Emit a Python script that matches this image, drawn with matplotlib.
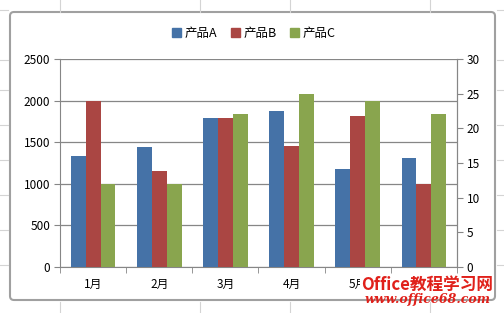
import numpy as np
import matplotlib.pyplot as plt
from matplotlib.patches import FancyBboxPatch, Rectangle

plt.rcParams['font.family'] = ['Noto Sans CJK SC', 'DejaVu Sans']

# 数据
months = ['1月', '2月', '3月', '4月', '5月', '6月']
prod_a = [1335, 1445, 1795, 1880, 1180, 1310]
prod_b = [2000, 1155, 1795, 1455, 1815, 1000]
prod_c = [12, 12, 22, 25, 24, 22]   # 次坐标轴
left_ticks = [0, 500, 1000, 1500, 2000, 2500]
right_ticks = [0, 5, 10, 15, 20, 25, 30]

colors = ['#4572A7', '#AA4643', '#89A54E']

fig = plt.figure(figsize=(5.04, 3.13), dpi=100)
W, H = 504, 313

# 表格背景线
bg = fig.add_axes([0, 0, 1, 1])
bg.set_xlim(0, W)
bg.set_ylim(H, 0)
bg.axis('off')
for x in [60, 200, 290, 430]:
    bg.plot([x, x], [0, 12], color='#d4d4d4', lw=0.8)
    bg.plot([x, x], [302, H], color='#d4d4d4', lw=0.8)
for y in [10, 60, 90, 125, 160, 195, 230, 265]:
    bg.plot([0, 8], [y, y], color='#d4d4d4', lw=0.8)
    bg.plot([497, W], [y, y], color='#d4d4d4', lw=0.8)
frame = FancyBboxPatch((10, 12), 485, 288, boxstyle='round,pad=0,rounding_size=4',
                       fc='white', ec='#a0a0a0', lw=1.5)
bg.add_patch(frame)

# 图表区
ax = fig.add_axes([60 / W, 1 - 267 / H, (457 - 60) / W, (267 - 59) / H])
x = np.arange(len(months))
w = 0.225
ax.bar(x - w, prod_a, w, color=colors[0], label='产品A', zorder=3)
ax.bar(x, prod_b, w, color=colors[1], label='产品B', zorder=3)
ax.set_xlim(-0.5, len(months) - 0.5)
ax.set_ylim(0, 2500)
ax.set_yticks(left_ticks)
ax.grid(axis='y', color='#868686', lw=0.9, zorder=0)
ax.set_axisbelow(True)
ax.set_xticks(x)
ax.set_xticklabels(months)
ax.set_xticks(np.arange(-0.5, len(months)), minor=True)
ax.tick_params(axis='x', which='major', length=0, pad=8, labelsize=8.5)
ax.tick_params(axis='x', which='minor', length=4, color='#868686', direction='out')
ax.tick_params(axis='y', length=4, color='#868686', labelsize=8.5, pad=3)
ax.spines['top'].set_visible(False)
for s in ['left', 'bottom', 'right']:
    ax.spines[s].set_color('#868686')

ax2 = ax.twinx()
ax2.bar(x + w, prod_c, w, color=colors[2], label='产品C', zorder=3)
ax2.set_ylim(0, 30)
ax2.set_yticks(right_ticks)
ax2.tick_params(axis='y', length=4, color='#868686', labelsize=8.5, pad=3)
for s in ['top', 'left', 'bottom']:
    ax2.spines[s].set_visible(False)
ax2.spines['right'].set_color('#868686')

# 图例
handles = [Rectangle((0, 0), 1, 1, color=c) for c in colors]
fig.legend(handles, ['产品A', '产品B', '产品C'], loc='center', bbox_to_anchor=(254 / W, 1 - 33 / H),
           ncol=3, frameon=False, fontsize=9, handlelength=0.7, handleheight=0.7,
           handletextpad=0.3, columnspacing=1.1)

# 水印
wm_box = dict(fc='white', ec='none', pad=0.5)
fig.text(427 / W, 1 - 285 / H, 'Office教程学习网', color='#e0201a', fontsize=12,
         fontweight='bold', style='italic', ha='center', va='center', bbox=wm_box)
fig.text(428 / W, 1 - 299 / H, 'www.office68.com', color='#e0201a', fontsize=9,
         style='italic', fontweight='bold', family='DejaVu Serif', ha='center', va='center')

fig.savefig('out.png', dpi=100)
